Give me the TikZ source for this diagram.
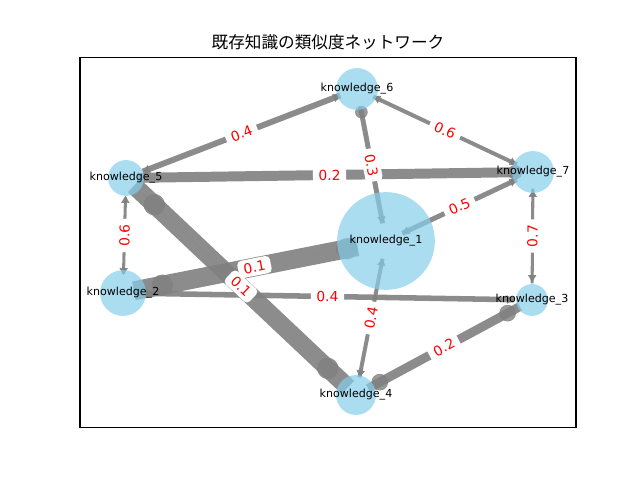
\documentclass[tikz,border=0pt]{standalone}
\usepackage{fontspec}
\setmainfont{DejaVu Sans}
\newfontfamily\jpfont{Noto Sans CJK JP}
\usetikzlibrary{arrows.meta,calc,backgrounds}
\definecolor{NodeClr}{RGB}{135,206,235}
\definecolor{EdgeClr}{RGB}{128,128,128}
\definecolor{WeightClr}{RGB}{255,0,0}

\begin{document}
\begin{tikzpicture}[x=0.01in,y=-0.01in,
  knode/.style={circle,fill=NodeClr,fill opacity=0.7,inner sep=0pt,
    label={[kname]center:knowledge\_#1}},
  kname/.style={text opacity=1,font=\fontsize{8}{9.6}\selectfont},
  simline/.style={draw=EdgeClr,fill=EdgeClr,opacity=0.9},
  weight/.style={fill=white,text=WeightClr,rounded corners=3pt,
    inner xsep=4pt,inner ysep=2.5pt,font=\fontsize{10}{12}\selectfont}]
\useasboundingbox (0,0) rectangle (640,480);

% Frame and title.
\draw[line width=0.8pt] (80,57.6) rectangle (576,427.2);
\node[font=\jpfont\fontsize{12}{14.4}\selectfont,anchor=base] (title) at (328,48.5) {既存知識の類似度ネットワーク};

% Knowledge nodes.
\foreach \n/\x/\y/\d in {1/386/241/70.6,2/123/293/33.1,3/532/300/23,4/356/395/28.8,5/126/178/25.9,6/357/89/30.2,7/533/172/30.2}
  \node[knode=\n,minimum size=\d pt] (k\n) at (\x,\y) {};

% Similarity links, under the nodes.
\begin{pgfonlayer}{background}
\foreach \a/\b/\w/\sa/\sb in {5/6/4.3/13/13,5/7/7.2/8/10,2/5/2.2/14/14,5/4/13/8/8,2/1/13.7/8/21,2/3/4/13/13,6/1/3.6/13/13,6/7/2.9/13/13,7/1/3.6/13/13,3/7/2.2/12/12,1/4/2.9/13/13,4/3/6.5/10/10}
  \draw[simline,line width=\w pt,shorten <=\sa pt,shorten >=\sb pt] (k\a.center) -- (k\b.center);
% Heads of the thin links.
\foreach \a/\b in {5/6,6/5,5/2,2/5,3/2,2/3,1/6,7/6,6/7,1/7,7/1,7/3,3/7,1/4,4/1}
  \draw[simline,line width=0.5pt,-{Triangle[length=5pt,width=6pt]}] ($(k\a.center)!20pt!(k\b.center)$) -- ($(k\a.center)!13pt!(k\b.center)$);
% Heads of the thick links.
\foreach \a/\b/\d/\r in {5/4/28/7.5,4/5/28/7.5,2/1/29/7.5,1/2/29/7.5,7/5/13/5,4/3/19.5/5.8,3/4/20/5.8,6/1/17/4.3}
  \fill[simline,opacity=0.8] ($(k\a.center)!\d pt!(k\b.center)$) circle[radius=\r pt];
\end{pgfonlayer}

% Similarity values.
\foreach \a/\b/\l in {5/6/0.4,5/7/0.2,5/2/0.6,5/4/0.1,2/1/0.1,2/3/0.4,6/1/0.3,6/7/0.6,7/1/0.5,3/7/0.7,1/4/0.4,4/3/0.2}
  \path (k\a.center) -- node[weight,sloped] {\l} (k\b.center);

\end{tikzpicture}
\end{document}
